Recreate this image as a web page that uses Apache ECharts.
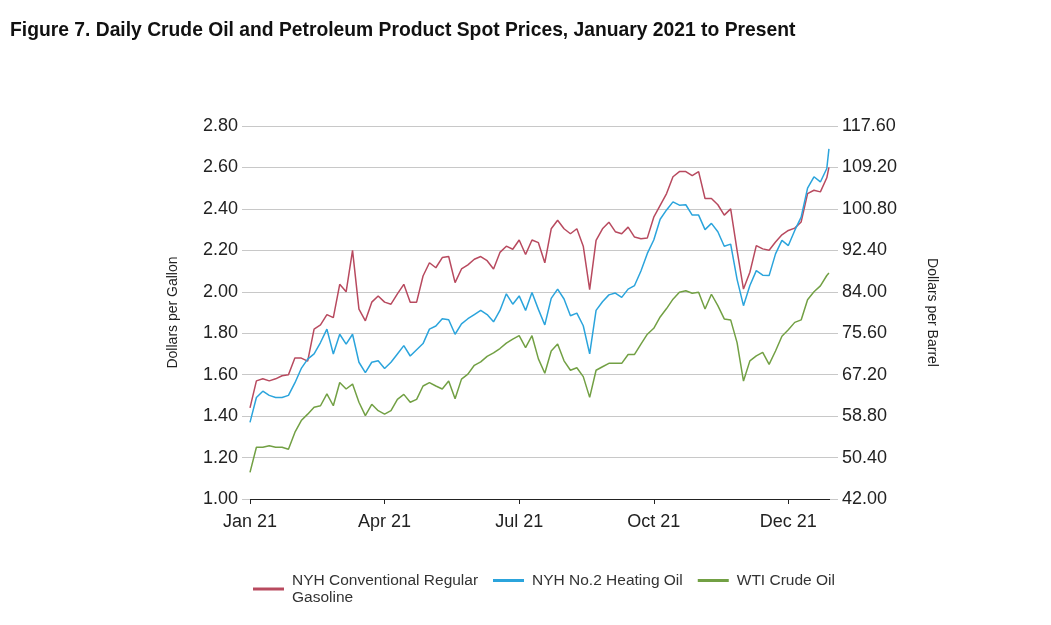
<!DOCTYPE html>
<html>
<head>
<meta charset="utf-8">
<script src="https://cdn.jsdelivr.net/npm/echarts@6/dist/echarts.min.js"></script>
<style>
  html, body { margin: 0; padding: 0; background: #fff; }
  #chart { width: 1051px; height: 625px; }
</style>
</head>
<body>
<div id="chart"></div>
<script>
// trading-day index since 4 Jan 2021, sampled about every 3 days
const days = [
  0, 3, 6, 9, 12, 15, 18, 21, 24, 27, 30, 33, 36, 39, 42, 45, 48, 51, 54, 57,
  60, 63, 66, 69, 72, 75, 78, 81, 84, 87, 90, 93, 96, 99, 102, 105, 108, 111, 114, 117,
  120, 123, 126, 129, 132, 135, 138, 141, 144, 147, 150, 153, 156, 159, 162, 165, 168, 171, 174, 177,
  180, 183, 186, 189, 192, 195, 198, 201, 204, 207, 210, 213, 216, 219, 222, 225, 228, 231, 234, 237,
  240, 243, 246, 249, 252, 255, 258, 261, 264, 267, 270, 271
];

// dollars per gallon
const gasoline = [
  1.44, 1.57, 1.58, 1.57, 1.58, 1.595, 1.60, 1.68, 1.68, 1.665, 1.82, 1.84, 1.89, 1.875, 2.036, 2.00, 2.20, 1.916, 1.86, 1.95,
  1.98, 1.95, 1.94, 1.99, 2.036, 1.95, 1.95, 2.076, 2.14, 2.116, 2.165, 2.17, 2.044, 2.11, 2.13, 2.157, 2.17, 2.15, 2.11, 2.19,
  2.22, 2.205, 2.25, 2.18, 2.25, 2.237, 2.14, 2.304, 2.345, 2.304, 2.28, 2.304, 2.22, 2.01, 2.248, 2.304, 2.336, 2.29, 2.28, 2.312,
  2.264, 2.256, 2.26, 2.36, 2.417, 2.474, 2.555, 2.58, 2.58, 2.56, 2.58, 2.45, 2.45, 2.42, 2.37, 2.40, 2.20, 2.013, 2.094, 2.223,
  2.207, 2.20, 2.24, 2.275, 2.296, 2.307, 2.337, 2.474, 2.49, 2.482, 2.55, 2.60
];

const heatingOil = [
  1.37, 1.49, 1.52, 1.50, 1.49, 1.49, 1.50, 1.56, 1.63, 1.675, 1.70, 1.755, 1.82, 1.70, 1.795, 1.747, 1.795, 1.66, 1.61, 1.66,
  1.667, 1.63, 1.66, 1.70, 1.74, 1.69, 1.72, 1.75, 1.82, 1.835, 1.87, 1.865, 1.795, 1.845, 1.87, 1.89, 1.91, 1.89, 1.855, 1.91,
  1.99, 1.94, 1.98, 1.91, 1.996, 1.915, 1.84, 1.968, 2.013, 1.965, 1.884, 1.897, 1.836, 1.70, 1.91, 1.952, 1.985, 1.994, 1.973, 2.013,
  2.03, 2.10, 2.185, 2.25, 2.35, 2.395, 2.434, 2.418, 2.42, 2.37, 2.37, 2.30, 2.33, 2.29, 2.22, 2.23, 2.06, 1.933, 2.03, 2.102,
  2.08, 2.078, 2.183, 2.248, 2.223, 2.296, 2.36, 2.50, 2.555, 2.53, 2.595, 2.69
];

// dollars per barrel
const wti = [
  47.4, 52.5, 52.5, 52.8, 52.5, 52.5, 52.1, 55.5, 57.9, 59.2, 60.6, 60.9, 63.3, 60.9, 65.6, 64.3, 65.3, 61.6, 58.9, 61.2,
  59.9, 59.2, 59.9, 62.2, 63.2, 61.6, 62.2, 64.9, 65.6, 64.9, 64.3, 65.9, 62.3, 66.3, 67.3, 69.1, 69.8, 70.9, 71.6, 72.5,
  73.6, 74.4, 75.1, 72.7, 75.1, 70.4, 67.5, 72.0, 73.4, 70.0, 68.1, 68.6, 66.8, 62.6, 68.1, 68.8, 69.5, 69.5, 69.5, 71.3,
  71.3, 73.4, 75.4, 76.6, 78.9, 80.6, 82.5, 83.9, 84.2, 83.7, 83.9, 80.5, 83.5, 81.2, 78.5, 78.3, 73.7, 65.9, 70.0, 71.0,
  71.7, 69.3, 72.0, 75.0, 76.3, 77.8, 78.3, 82.4, 84.0, 85.2, 87.3, 87.8
];

const tickDays = [0, 63, 126, 189, 252];
const tickLabels = ["Jan 21", "Apr 21", "Jul 21", "Oct 21", "Dec 21"];

const seriesNames = ["NYH Conventional Regular Gasoline", "NYH No.2 Heating Oil", "WTI Crude Oil"];
const colors = ["#b84a5f", "#2ba4dc", "#72a044"];

const font = "'Liberation Sans', Arial, sans-serif";
const chart = echarts.init(document.getElementById("chart"));

const pair = (vals) => days.map((d, i) => [d, vals[i]]);

// two legends so the single-line items sit on the top line like the original
const legendBase = {
  top: 572,
  padding: 0,
  icon: "rect",
  itemWidth: 31,
  itemHeight: 3,
  itemGap: 15,
  formatter: (name) =>
    name === seriesNames[0] ? "NYH Conventional Regular\nGasoline" : name,
  textStyle: { fontFamily: font, fontSize: 15.5, lineHeight: 17, color: "#333", padding: [0, 0, 0, 3] },
};

const option = {
  animation: false,
  backgroundColor: "#fff",
  textStyle: { fontFamily: font },
  title: {
    text: "Figure 7. Daily Crude Oil and Petroleum Product Spot Prices, January 2021 to Present",
    left: 10,
    top: 21,
    padding: 0,
    textStyle: { fontFamily: font, fontSize: 19.3, fontWeight: "bold", color: "#111" },
  },
  grid: { left: 250, right: 221, top: 126, bottom: 126 },
  legend: [
    Object.assign({}, legendBase, { left: 253, data: [seriesNames[0]] }),
    Object.assign({}, legendBase, { left: 493, data: [seriesNames[1], seriesNames[2]] }),
  ],
  xAxis: {
    type: "value",
    min: 0,
    max: 271.5,
    splitLine: { show: false },
    axisLine: { show: true, lineStyle: { color: "#222", width: 1 } },
    axisTick: { show: true, length: 5, lineStyle: { color: "#222" }, customValues: tickDays },
    axisLabel: {
      customValues: tickDays,
      margin: 14,
      fontSize: 18,
      color: "#222",
      formatter: (v) => tickLabels[tickDays.indexOf(Math.round(v))] || "",
    },
  },
  yAxis: [
    {
      type: "value",
      min: 1,
      max: 2.8,
      interval: 0.2,
      name: "Dollars per Gallon",
      nameLocation: "middle",
      nameGap: 70,
      nameTextStyle: { fontFamily: font, fontSize: 14, color: "#222" },
      axisLine: { show: false },
      axisTick: { show: true, length: 8, lineStyle: { color: "#c8c8c8" } },
      splitLine: { lineStyle: { color: "#c8c8c8", width: 1 } },
      axisLabel: { margin: 12, fontSize: 18, color: "#222", formatter: (v) => v.toFixed(2) },
    },
    {
      type: "value",
      min: 42,
      max: 117.6,
      interval: 8.4,
      position: "right",
      name: "Dollars per Barrel",
      nameLocation: "middle",
      nameRotate: -90,
      nameGap: 95,
      nameTextStyle: { fontFamily: font, fontSize: 14, color: "#222" },
      axisLine: { show: false },
      axisTick: { show: true, length: 8, lineStyle: { color: "#c8c8c8" } },
      splitLine: { show: false },
      axisLabel: { margin: 12, fontSize: 18, color: "#222", formatter: (v) => v.toFixed(2) },
    },
  ],
  series: [
    {
      name: seriesNames[0],
      type: "line",
      showSymbol: false,
      data: pair(gasoline),
      lineStyle: { color: colors[0], width: 1.5 },
      itemStyle: { color: colors[0] },
    },
    {
      name: seriesNames[1],
      type: "line",
      showSymbol: false,
      data: pair(heatingOil),
      lineStyle: { color: colors[1], width: 1.5 },
      itemStyle: { color: colors[1] },
    },
    {
      name: seriesNames[2],
      type: "line",
      yAxisIndex: 1,
      showSymbol: false,
      data: pair(wti),
      lineStyle: { color: colors[2], width: 1.5 },
      itemStyle: { color: colors[2] },
    },
  ],
};

chart.setOption(option);
</script>
</body>
</html>
